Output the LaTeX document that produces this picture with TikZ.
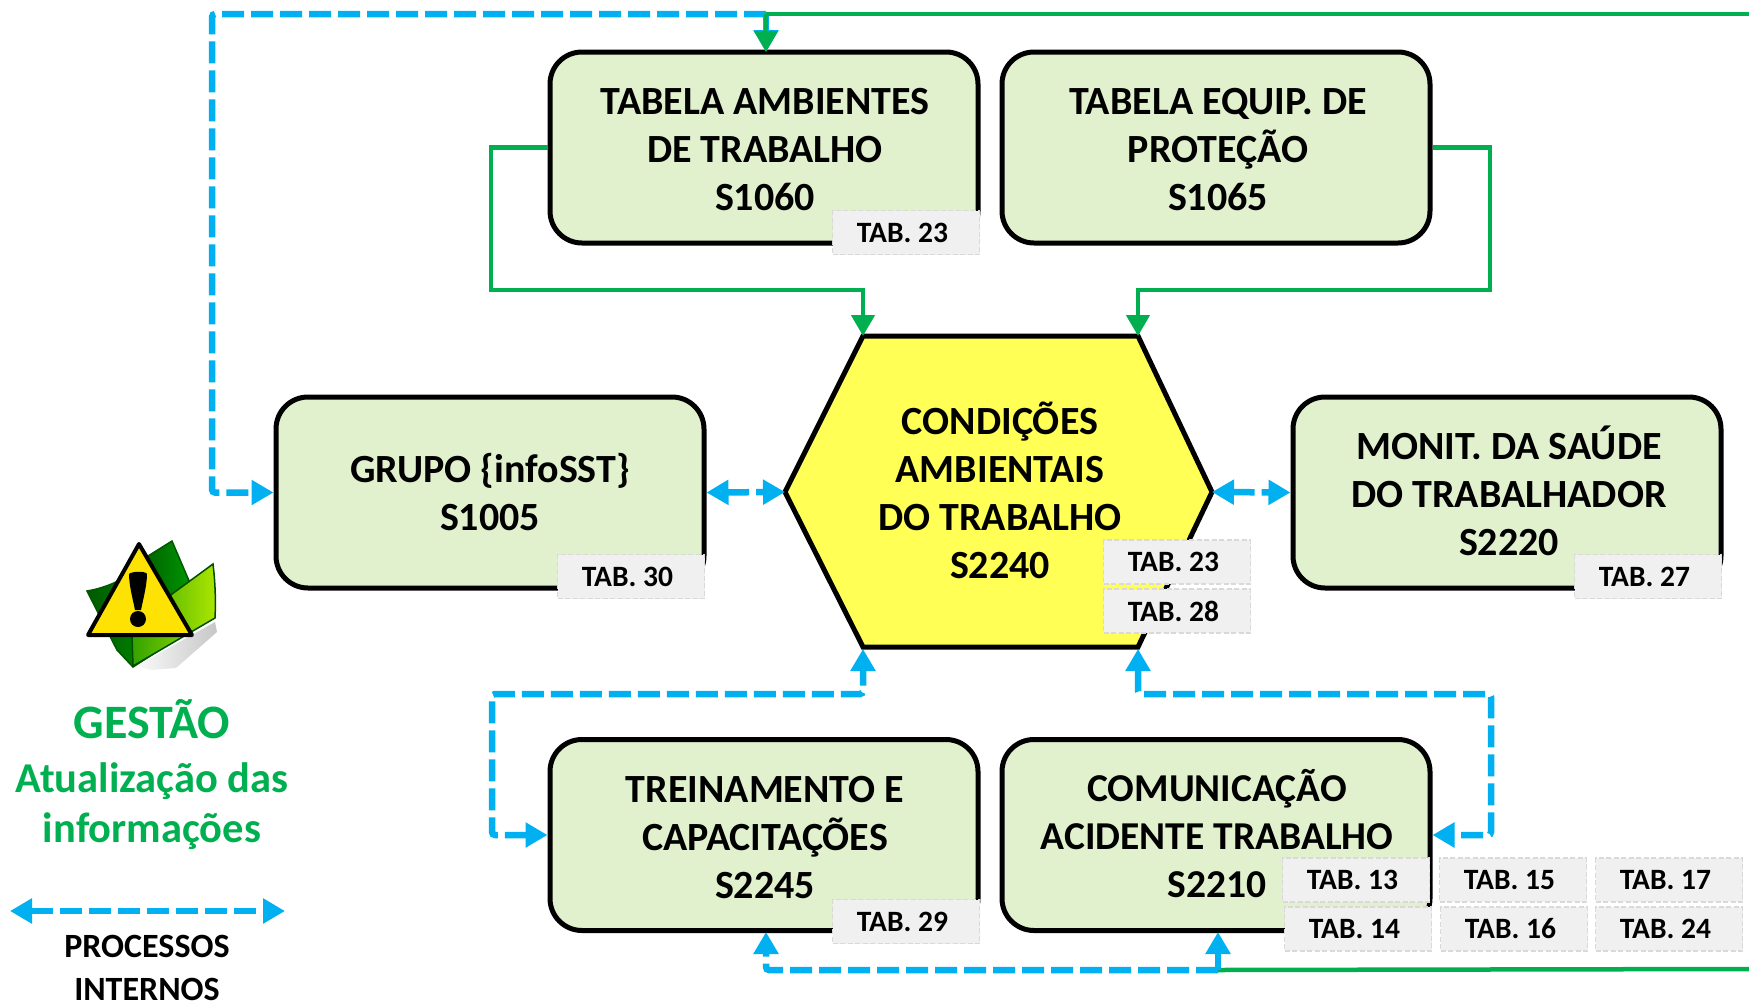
\documentclass[tikz,border=0pt]{standalone}
\usepackage{fontspec}
\setmainfont{Carlito}
\usetikzlibrary{arrows.meta,calc}
\definecolor{gbox}{HTML}{E1F1CE}
\definecolor{hexy}{HTML}{FFFF55}
\definecolor{lgreen}{HTML}{00B050}
\definecolor{lblue}{HTML}{00B0F0}
\definecolor{tabf}{HTML}{F0F0F0}
\definecolor{tabd}{HTML}{D9D9D9}
\tikzset{
  procbox/.style={draw=black,line width=5pt,fill=gbox,rounded corners=32pt,minimum width=428pt,minimum height=191pt,inner sep=0pt,align=center,font=\fontsize{40}{48}\selectfont\bfseries},
  tabbox/.style={draw=tabd,line width=1.6pt,dash pattern=on 5pt off 2.5pt,fill=tabf,minimum width=147pt,minimum height=44pt,inner sep=0pt,font=\fontsize{29.5}{30}\selectfont\bfseries,execute at end node={\hspace{7pt}}},
  hexlabel/.style={align=center,inner sep=0pt,font=\fontsize{40}{48}\selectfont\bfseries},
  greenline/.style={draw=lgreen,line width=4.5pt},
  greenarrow/.style={greenline,-{Triangle[length=21pt,width=23pt]}},
  blueline/.style={draw=lblue,line width=6.5pt,dash pattern=on 22pt off 7pt,rounded corners=3pt},
  bluearrow/.style={blueline,-{Triangle[length=22pt,width=24pt]}},
  bluedouble/.style={blueline,{Triangle[length=22pt,width=24pt]}-{Triangle[length=22pt,width=24pt]}},
  legendtext/.style={text=lgreen,inner sep=0pt,font=\bfseries},
}
\begin{document}
\begin{tikzpicture}[x=1pt,y=-1pt]
\path[use as bounding box] (0,0) rectangle (1749,1002);
% boxes
\node[procbox] (s1060) at (764,147.5) {};
\node[procbox] (s1065) at (1216,147.5) {};
\node[procbox] (s1005) at (490,492.5) {};
\node[procbox] (s2220) at (1507,492.5) {};
\node[procbox] (s2245) at (764,835) {};
\node[procbox] (s2210) at (1216,835) {};
\node[hexlabel] (l1060) at (765,150) {TABELA AMBIENTES\\DE TRABALHO\\S1060};
\node[hexlabel] (l1065) at (1218,150) {TABELA EQUIP. DE\\PROTEÇÃO\\S1065};
\node[hexlabel] (l1005) at (490,492) {GRUPO \{infoSST\}\\S1005};
\node[hexlabel] (l2220) at (1509,491) {MONIT. DA SAÚDE\\DO TRABALHADOR\\S2220};
\node[hexlabel] (l2245) at (765,838) {TREINAMENTO E\\CAPACITAÇÕES\\S2245};
\node[hexlabel,font=\fontsize{39.5}{48}\selectfont\bfseries] (l2210) at (1217,834) {COMUNICAÇÃO\\ACIDENTE TRABALHO\\S2210};
% hexagon
\coordinate (hexL) at (785,492);
\coordinate (hexTL) at (863,336);
\coordinate (hexTR) at (1138,336);
\coordinate (hexR) at (1212,492);
\coordinate (hexBR) at (1138,647);
\coordinate (hexBL) at (863,647);
\draw[line width=5pt,fill=hexy,line join=miter] (hexL)--(hexTL)--(hexTR)--(hexR)--(hexBR)--(hexBL)--cycle;
\node[hexlabel] (s2240) at (1000,490) {CONDIÇÕES\\AMBIENTAIS\\DO TRABALHO\\S2240};
% routing points
\coordinate (topR) at (1749,14);
\coordinate (topM) at (766,14);
\coordinate (topL) at (212,14);
\coordinate (leftG) at (491,290);
\coordinate (rightG) at (1490,290);
\coordinate (leftB) at (492,694);
\coordinate (rightB) at (1491,694);
\coordinate (botM) at (1218,970);
\coordinate (botL) at (766,970);
\coordinate (botR) at (1749,969);
\coordinate (s1060in) at (766,52);
\coordinate (s2245in) at (766,932);
\coordinate (s2210in) at (1218,932);
% blue connectors
\draw[bluearrow] (topM) -- (topL) |- (s1005.west);
\draw[bluearrow] (topM) -- (s1060in);
\draw[bluedouble] (s1005.east) -- (hexL);
\draw[bluedouble] (hexR) -- (s2220.west);
\draw[bluedouble] (s2245.west) -| (leftB) -| ($(hexBL)+(0,2)$);
\draw[bluedouble] ($(hexBR)+(0,2)$) |- (rightB) |- (s2210.east);
% green connectors
\draw[greenline] (topR) -- (topM);
\draw[greenarrow] (topM) -- (s1060in);
\draw[greenarrow] (s1060.west) -| (leftG) -| (hexTL);
\draw[greenarrow] (s1065.east) -| (rightG) -| (hexTR);
\draw[greenline] (botR) -- (botM);
\draw[bluearrow] (botM) -- (botL) -- (s2245in);
\draw[draw=lblue,line width=6.5pt,-{Triangle[length=22pt,width=24pt]}] (botM) -- (s2210in);
% tabs
\node[tabbox] (t1060) at (906,232.5) {TAB. 23};
\node[tabbox] (t1005) at (631,576.5) {TAB. 30};
\node[tabbox] (t2220) at (1648,576.5) {TAB. 27};
\node[tabbox] (t2240a) at (1177,562) {TAB. 23};
\node[tabbox] (t2240b) at (1177,611) {TAB. 28};
\node[tabbox] (t2245) at (906,921.5) {TAB. 29};
\node[tabbox] (t13) at (1356,880) {TAB. 13};
\node[tabbox] (t14) at (1358,929) {TAB. 14};
\node[tabbox] (t15) at (1513,880) {TAB. 15};
\node[tabbox] (t16) at (1514,929) {TAB. 16};
\node[tabbox] (t17) at (1669,880) {TAB. 17};
\node[tabbox] (t24) at (1669,929) {TAB. 24};
% icon
\shade[left color=black!2,right color=black!22] (215,622) -- (217,632) -- (176,668) -- (150,670) -- (137,666) -- cycle;
\draw[line width=1.5pt,draw=green!35!black,left color=green!35!black,right color=green!60!black] (87,591) .. controls (105,588) and (125,580) .. (140,566) -- (175,640) -- (133,667) -- (117,650) -- cycle;
\draw[line width=1.5pt,draw=green!35!black,left color=green!40!black,right color=green!60!black] (148,556) -- (172,541) -- (193,590) -- (170,610) -- cycle;
\draw[line width=1.5pt,draw=green!30!black,left color=green!55!black!80!yellow,right color=yellow!75!green!90!black] (133,666) -- (132,636) -- (172,594) -- (213,564) .. controls (215,580) and (216,600) .. (215,618) -- cycle;
\draw[line width=4pt,line join=round,fill=yellow!85!orange] (139,544) -- (88,635) -- (192,635) -- cycle;
\fill (129,574) .. controls (132,571) and (146,571) .. (147,574) .. controls (147,585) and (143,600) .. (141,610) -- (135,610) .. controls (133,600) and (129,585) .. (129,574) -- cycle;
\fill (138,619) circle (8);
% legend
\node[legendtext,font=\fontsize{48}{48}\selectfont\bfseries] (gestao) at (152,719) {GESTÃO};
\node[legendtext,font=\fontsize{42.5}{50}\selectfont\bfseries,align=center] (atual) at (152,806) {Atualização das\\informações};
\coordinate (legL) at (10,911);
\coordinate (legR) at (285,911);
\draw[bluedouble] (legL) -- (legR);
\node[inner sep=0pt,align=center,font=\fontsize{34}{42.5}\selectfont\bfseries] (proc) at (147,968) {PROCESSOS\\INTERNOS};
\end{tikzpicture}
\end{document}
